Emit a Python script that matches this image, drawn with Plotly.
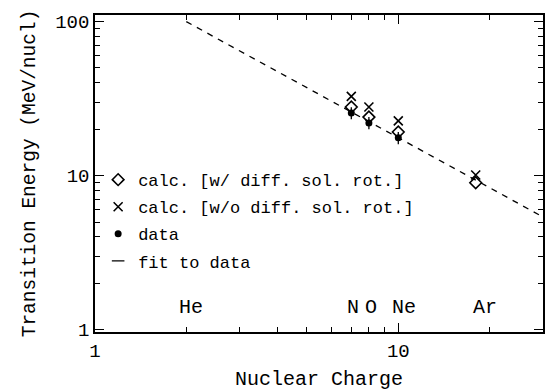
import numpy as np
import plotly.graph_objects as go

# ---- data ----
Z_calc = [7, 8, 10, 18]
E_calc_w = [27.9, 24.0, 19.2, 9.0]      # w/ diff. sol. rot.
E_calc_wo = [32.7, 27.9, 22.7, 10.1]    # w/o diff. sol. rot.
Z_data = [7, 8, 10]
E_data = [25.5, 22.0, 17.6]
E_err = [2.3, 2.0, 1.6]
fit_A = 211.0
fit_b = 1.078
fit_Z = [2.0, 30.0]
elem_names = ["He", "N", "O", "Ne", "Ar"]
elem_Z = [2, 7, 8, 10, 18]

fit_E = [fit_A * z ** (-fit_b) for z in fit_Z]

FONT = "Liberation Mono"
fig = go.Figure()

fig.add_trace(go.Scatter(
    x=Z_calc, y=E_calc_w, mode="markers", name="calc. [w/ diff. sol. rot.]", legendgroup="a",
    marker=dict(symbol="diamond-open", size=9, color="black", line=dict(width=1.6, color="black")),
))
fig.add_trace(go.Scatter(
    x=Z_calc, y=E_calc_wo, mode="markers", name="calc. [w/o diff. sol. rot.]", legendgroup="b",
    marker=dict(symbol="x-thin-open", size=9, color="black", line=dict(width=1.6, color="black")),
))
fig.add_trace(go.Scatter(
    x=Z_data, y=E_data, mode="markers", name="data", legendgroup="c",
    marker=dict(symbol="circle", size=7, color="black"),
    error_y=dict(type="data", array=E_err, visible=True, width=0, thickness=1.3, color="black"),
))
fig.add_trace(go.Scatter(
    x=fit_Z, y=fit_E, mode="lines", name="fit to data", legendgroup="d", showlegend=False,
    line=dict(color="black", width=1.3, dash="6px,6px"),
))
# legend entry for the fit (short dash symbol, as in the original legend)
fig.add_trace(go.Scatter(
    x=[None], y=[None], mode="markers", name="fit to data", legendgroup="d",
    marker=dict(symbol="line-ew-open", size=9, color="black", line=dict(width=1.3, color="black")),
))

for name, z, dx in zip(elem_names, elem_Z, [5, 2, 2, 6, 9]):
    fig.add_annotation(x=np.log10(z), y=np.log10(1.4), text=name, showarrow=False,
                       xshift=dx, font=dict(family=FONT, size=20, color="black"))

axis_common = dict(
    type="log", showgrid=False, zeroline=False, showline=True, linecolor="black",
    linewidth=1.5, mirror="ticks", ticks="inside", ticklen=9, tickwidth=1.3,
    tickcolor="black", dtick=1,
    minor=dict(ticks="inside", ticklen=5, tickwidth=1.1, tickcolor="black", dtick="D1"),
    tickfont=dict(family=FONT, size=19, color="black"),
)

fig.update_xaxes(**axis_common, range=[0, np.log10(30)],
                 title=dict(text="Nuclear Charge", font=dict(family=FONT, size=20, color="black"), standoff=10))
fig.update_yaxes(**axis_common, range=[-0.015, 2.043],
                 title=dict(text="Transition Energy (MeV/nucl)", font=dict(family=FONT, size=19.5, color="black"), standoff=14))

fig.update_layout(
    width=546, height=391,
    margin=dict(l=95, r=1, t=15, b=59),
    paper_bgcolor="white", plot_bgcolor="white",
    showlegend=True,
    legend=dict(x=0.007, y=0.536, xanchor="left", yanchor="top",
                bgcolor="rgba(0,0,0,0)", borderwidth=0, tracegroupgap=2,
                font=dict(family=FONT, size=17, color="black")),
)

fig.write_html("out.html")
